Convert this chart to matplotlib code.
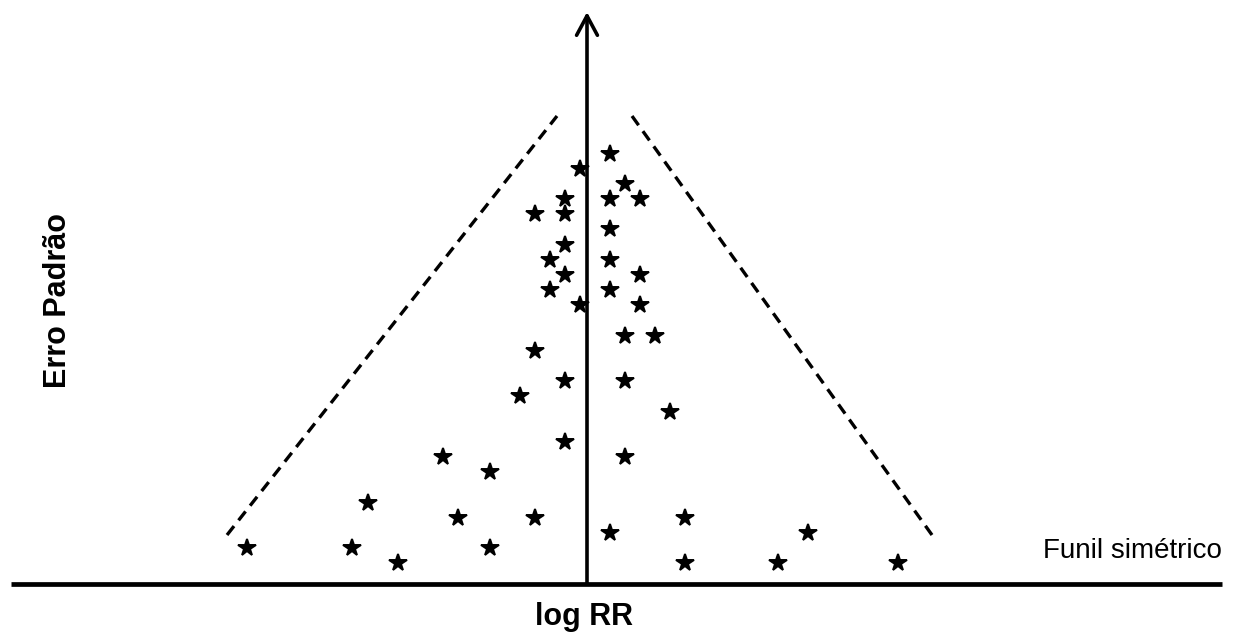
import matplotlib
matplotlib.use("Agg")
import matplotlib.pyplot as plt

# Study estimates: log RR (effect) and precision-like vertical position
log_rr = [0.15, -0.05, 0.25, -0.15, 0.15, 0.35, -0.35, -0.15, 0.15, -0.15,
          -0.25, 0.15, -0.15, 0.35, -0.25, 0.15, -0.05, 0.35, 0.25, 0.45,
          -0.35, -0.15, 0.25, -0.45, 0.55, -0.15, -0.96, 0.25, -0.65, -1.46,
          -0.86, -0.35, 0.65, 0.15, 1.47, -2.27, -1.57, -0.65, -1.26, 0.65,
          1.27, 2.07]
erro = [4.30, 4.15, 4.00, 3.85, 3.85, 3.85, 3.70, 3.70, 3.55, 3.39,
        3.24, 3.24, 3.09, 3.09, 2.94, 2.94, 2.79, 2.79, 2.48, 2.48,
        2.33, 2.03, 2.03, 1.88, 1.72, 1.42, 1.27, 1.27, 1.12, 0.81,
        0.66, 0.66, 0.66, 0.51, 0.51, 0.36, 0.36, 0.36, 0.21, 0.21,
        0.21, 0.21]

funnel_left_x = [-2.40, -0.20]
funnel_left_y = [0.49, 4.68]
funnel_right_x = [0.30, 2.30]
funnel_right_y = [4.68, 0.49]

fig = plt.figure(figsize=(12.41, 6.35), dpi=100)
ax = fig.add_axes([0, 0, 1, 1])
ax.set_xlim(-587 / 150, (1241 - 587) / 150)
ax.set_ylim((584 - 635) / 100, 584 / 100)
ax.axis("off")

# baseline (x axis)
ax.plot([-3.84, 4.23], [0, 0], color="black", lw=3.4, solid_capstyle="butt", zorder=2)
# vertical arrow (y axis)
ax.annotate("", xy=(0, 5.72), xytext=(0, 0),
            arrowprops=dict(arrowstyle="->,head_length=14,head_width=7.5",
                            mutation_scale=1, lw=2.6, color="black",
                            shrinkA=0, shrinkB=0), zorder=2)

# funnel dashed lines
for fx, fy in [(funnel_left_x, funnel_left_y), (funnel_right_x, funnel_right_y)]:
    ax.plot(fx, fy, color="black", lw=2.4, dashes=(3.4, 2.2), zorder=2)

# studies
ax.plot(log_rr, erro, linestyle="none", marker="*", markersize=13,
        markeredgewidth=1.4, color="black", zorder=3)

ax.text(-3.473, 2.84, "Erro Padrão", rotation=90, rotation_mode="anchor",
        ha="center", va="baseline", fontsize=22, fontweight="bold",
        family="Liberation Sans")
ax.text(-0.02, -0.41, "log RR", ha="center", va="baseline", fontsize=22,
        fontweight="bold", family="Liberation Sans")
ax.text(3.633, 0.26, "Funil simétrico", ha="center", va="baseline",
        fontsize=20, family="Liberation Sans")

fig.savefig("out.png", dpi=100, facecolor="white")
